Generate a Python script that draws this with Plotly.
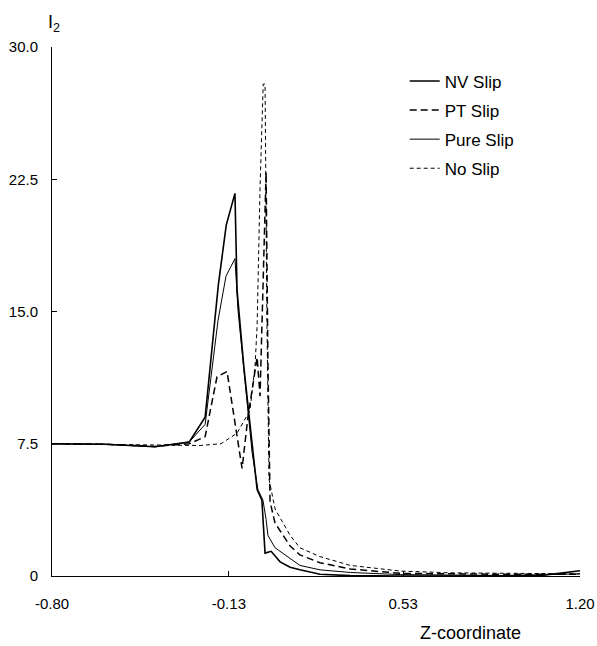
import plotly.graph_objects as go

# ---- data ----
nv_x = [-0.80, -0.60, -0.41, -0.28, -0.22, -0.17, -0.14, -0.107, -0.099, -0.073, -0.042, -0.023,
        -0.005, -0.001, 0.007, 0.030, 0.064, 0.102, 0.139, 0.215, 0.33, 0.52, 0.90, 1.05, 1.20]
nv_y = [7.5, 7.47, 7.33, 7.6, 9.0, 16.5, 19.9, 21.7, 16.2, 11.8, 7.5, 4.9,
        4.3, 3.3, 1.3, 1.4, 0.8, 0.5, 0.35, 0.1, 0.02, 0.0, 0.0, 0.02, 0.3]

pt_x = [-0.80, -0.60, -0.41, -0.28, -0.22, -0.175, -0.137, -0.080, -0.058, -0.023, -0.012,
        0.011, 0.018, 0.026, 0.045, 0.102, 0.139, 0.215, 0.33, 0.52, 0.90, 1.20]
pt_y = [7.5, 7.47, 7.35, 7.5, 7.9, 11.3, 11.6, 6.1, 9.0, 12.4, 10.2,
        22.9, 12.0, 4.2, 3.0, 1.7, 1.2, 0.75, 0.4, 0.15, 0.1, 0.1]

pure_x = [-0.80, -0.60, -0.41, -0.28, -0.22, -0.171, -0.141, -0.107, -0.095, -0.042, -0.020,
          -0.001, 0.011, 0.018, 0.045, 0.102, 0.139, 0.215, 0.33, 0.52, 0.90, 1.20]
pure_y = [7.5, 7.47, 7.33, 7.6, 8.6, 14.5, 17.0, 18.0, 15.0, 7.0, 4.9,
          4.3, 3.2, 2.3, 1.6, 1.0, 0.6, 0.35, 0.2, 0.08, 0.03, 0.12]

no_x = [-0.80, -0.60, -0.41, -0.239, -0.16, -0.099, -0.050, -0.031, -0.023, -0.012, 0.000,
        0.007, 0.014, 0.018, 0.022, 0.045, 0.102, 0.139, 0.215, 0.33, 0.52, 0.71, 0.90, 1.20]
no_y = [7.5, 7.47, 7.45, 7.4, 7.5, 8.1, 9.4, 11.9, 14.2, 22.0, 27.9,
        27.9, 14.5, 8.0, 5.5, 3.8, 2.3, 1.6, 1.1, 0.6, 0.28, 0.18, 0.15, 0.12]

x_ticks = [-0.80, -0.13, 0.53, 1.20]
x_tick_text = ["-0.80", "-0.13", "0.53", "1.20"]
y_ticks = [0, 7.5, 15.0, 22.5, 30.0]
y_tick_text = ["0", "7.5", "15.0", "22.5", "30.0"]

font = "Liberation Sans, Arial, sans-serif"

fig = go.Figure()
fig.add_trace(go.Scatter(x=nv_x, y=nv_y, mode="lines", name="NV Slip", legendgroup="a",
                         line=dict(color="black", width=1.6)))
fig.add_trace(go.Scatter(x=pt_x, y=pt_y, mode="lines", name="PT Slip", legendgroup="b",
                         line=dict(color="black", width=1.5, dash="7px,4px")))
fig.add_trace(go.Scatter(x=pure_x, y=pure_y, mode="lines", name="Pure Slip", legendgroup="c",
                         line=dict(color="black", width=1.0)))
fig.add_trace(go.Scatter(x=no_x, y=no_y, mode="lines", name="No Slip", legendgroup="d",
                         line=dict(color="black", width=1.0, dash="4px,3px")))

fig.update_layout(
    width=597, height=646,
    margin=dict(l=52, r=17, t=47, b=70),
    plot_bgcolor="white", paper_bgcolor="white",
    font=dict(family=font, size=15, color="black"),
    showlegend=True,
    legend=dict(x=0.668, y=0.969, xanchor="left", yanchor="top",
                font=dict(family=font, size=17, color="black"),
                bgcolor="rgba(0,0,0,0)", tracegroupgap=4, itemwidth=30),
    xaxis=dict(range=[-0.8, 1.2], tickvals=x_ticks, ticktext=x_tick_text,
               showgrid=False, zeroline=False, showline=True, linecolor="black", linewidth=1,
               ticks="inside", ticklen=5, tickcolor="black", automargin=False,
               ticklabelstandoff=14,
               tickfont=dict(family=font, size=15), title=None),
    yaxis=dict(range=[0, 30], tickvals=y_ticks, ticktext=y_tick_text,
               showgrid=False, zeroline=False, showline=True, linecolor="black", linewidth=1,
               ticks="inside", ticklen=5, tickcolor="black", automargin=False,
               ticklabelstandoff=10,
               tickfont=dict(family=font, size=15), title=None),
    annotations=[
        dict(text="Z-coordinate", xref="paper", yref="paper", x=0.792, y=-0.108,
             xanchor="center", yanchor="middle", showarrow=False,
             font=dict(family=font, size=18)),
        dict(text="I<sub>2</sub>", xref="paper", yref="paper", x=-0.011, y=1.045,
             xanchor="left", yanchor="middle", showarrow=False,
             font=dict(family=font, size=18)),
    ],
)

fig.write_html("out.html")
